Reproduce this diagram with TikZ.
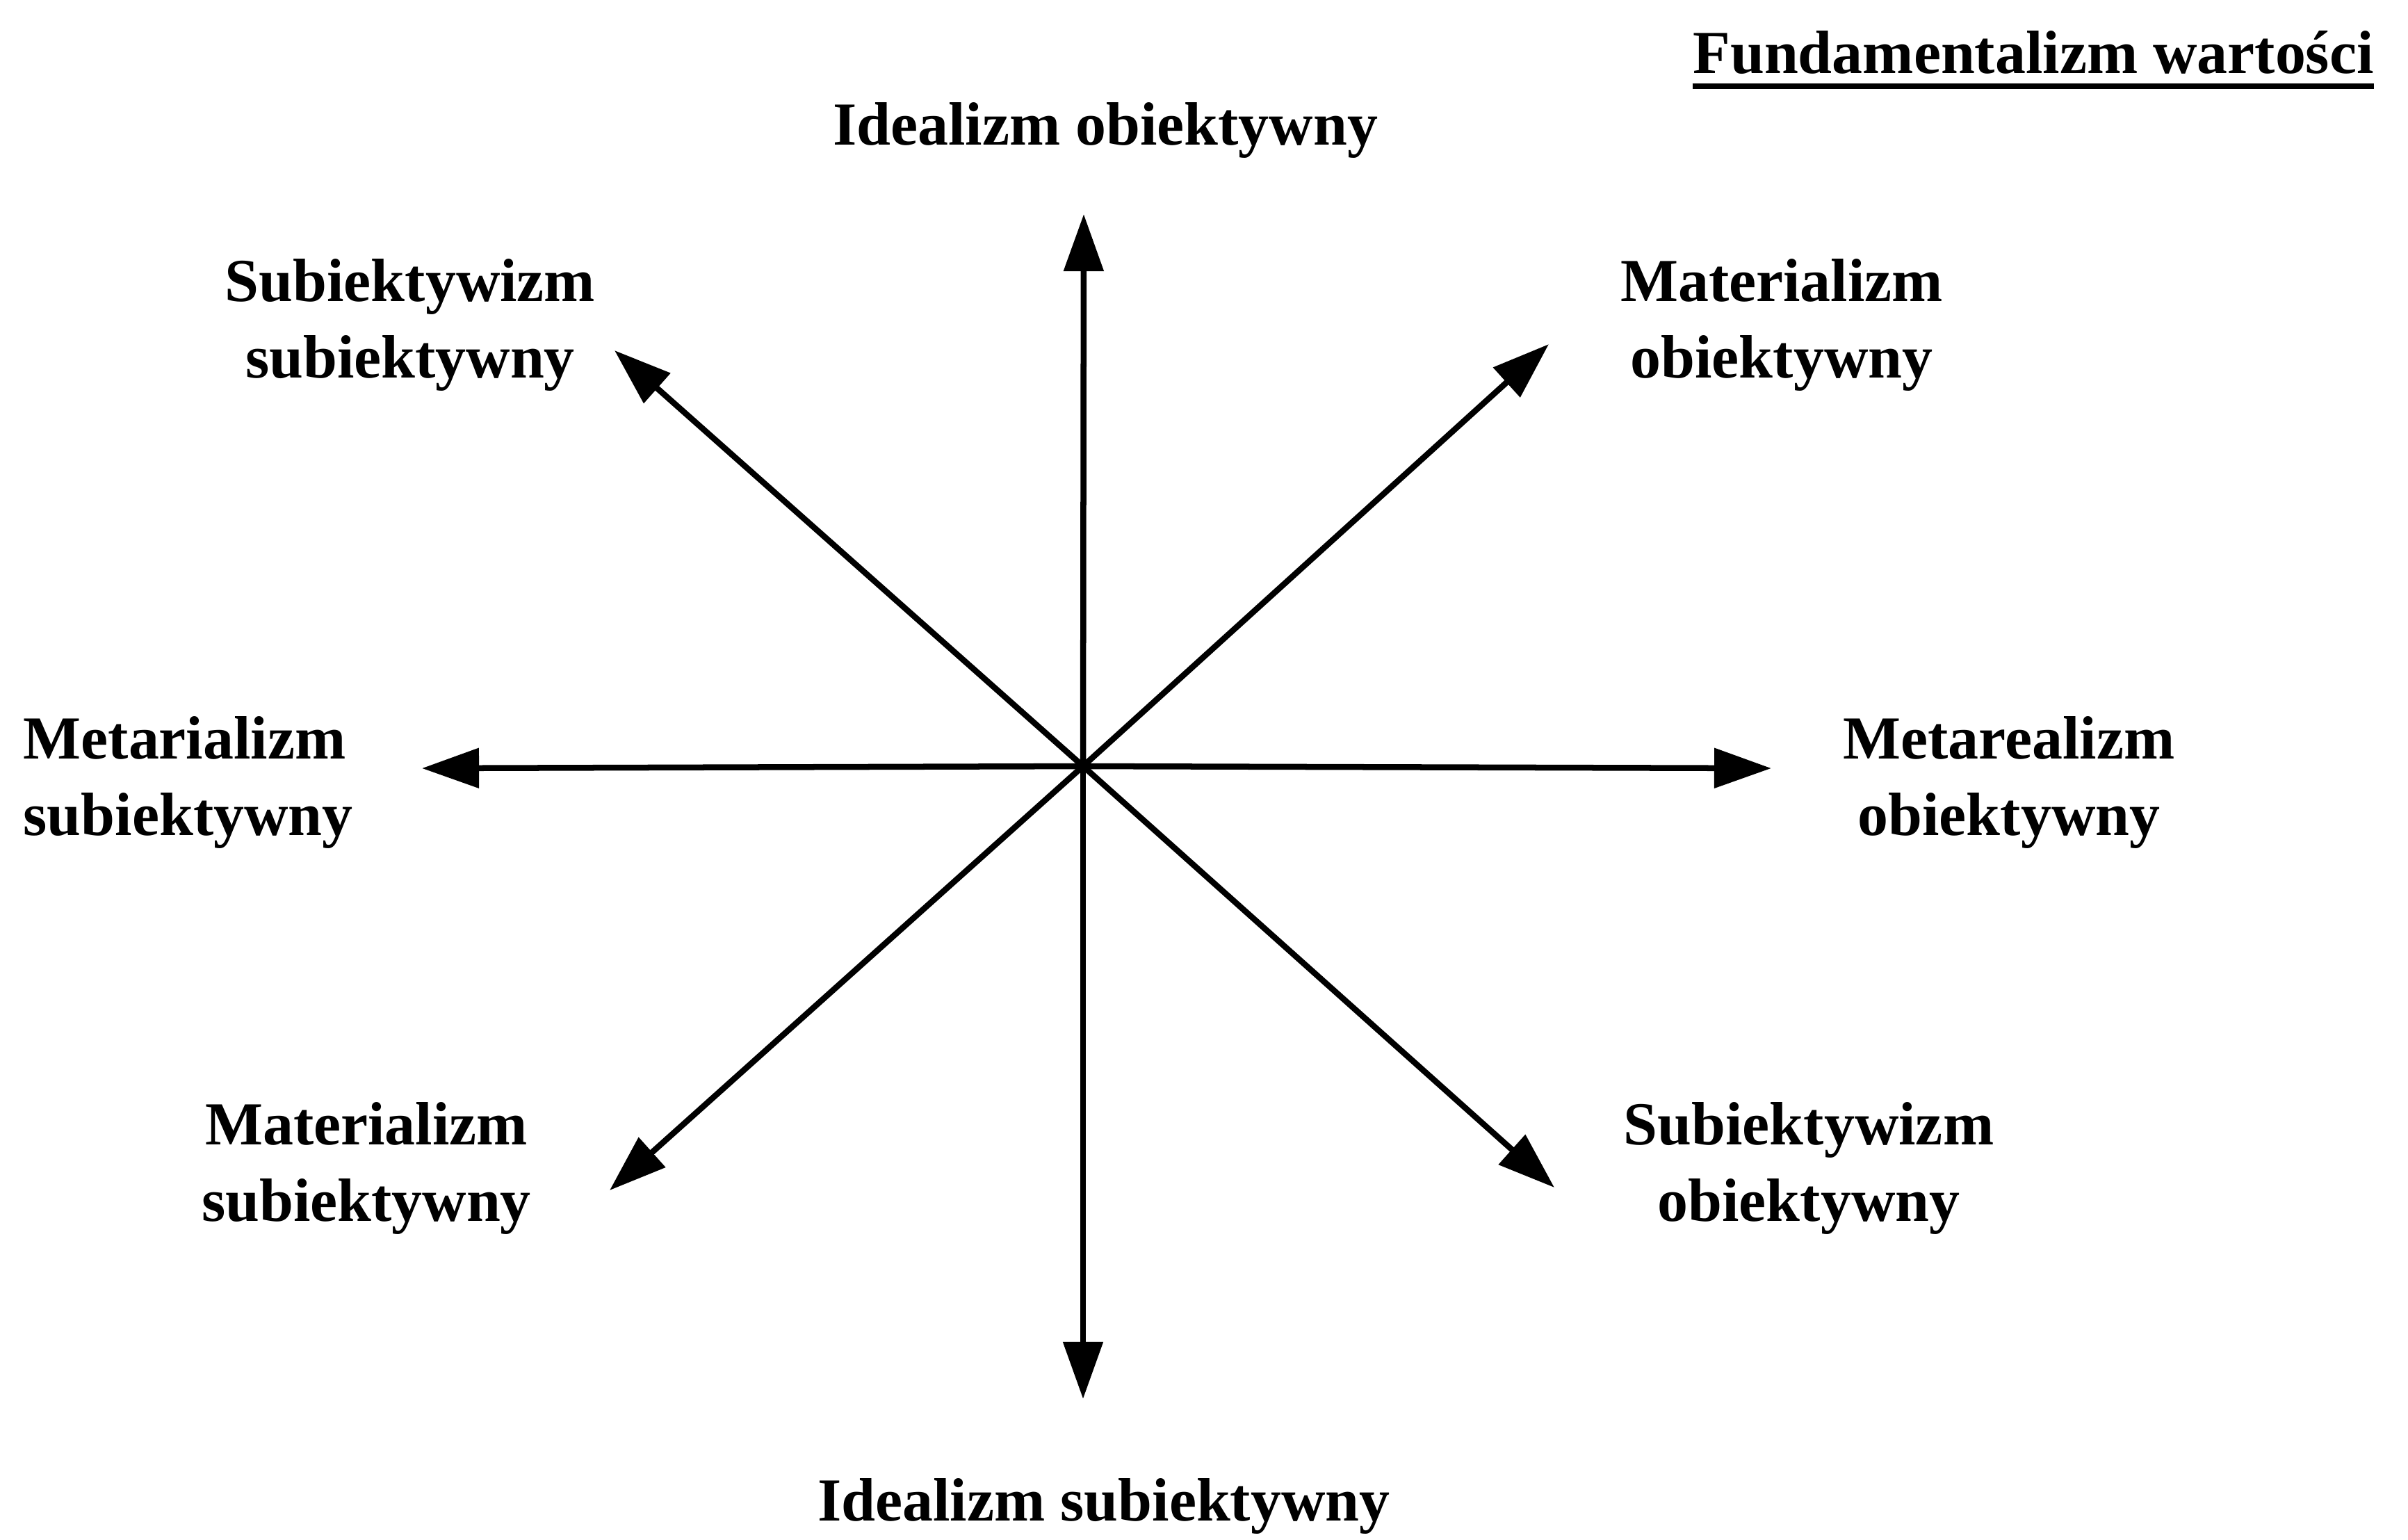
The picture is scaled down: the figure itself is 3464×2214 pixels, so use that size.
\documentclass[tikz,border=0pt]{standalone}
\usepackage{fontspec}
\setmainfont{Liberation Serif}
\usetikzlibrary{arrows.meta}
\begin{document}
\begin{tikzpicture}[x=0.01cm,y=-0.01cm,
  axis/.style={line width=0.085cm, -{Triangle[length=0.82cm,width=0.56cm]}},
  lbl/.style={font=\fontsize{25}{31.2}\selectfont\bfseries, align=center, anchor=base, inner sep=0pt}]
\useasboundingbox[fill=white] (0,0) rectangle (3464,2214);
\coordinate (O) at (1558,1102);
\coordinate (tN) at (1559,308);
\coordinate (tS) at (1558,2012);
\coordinate (tE) at (2548,1105);
\coordinate (tW) at (607,1105);
\coordinate (tNE) at (2228,495);
\coordinate (tNW) at (884,504);
\coordinate (tSW) at (877,1712);
\coordinate (tSE) at (2236,1708);
\foreach \t in {tN,tS,tE,tW,tNE,tNW,tSW,tSE}
  \draw[axis] (O) -- (\t);
\node[lbl] (title) at (2925,105) {Fundamentalizm wartości};
\draw[line width=2.2pt] ([yshift=-5.5pt]title.base west) -- ([yshift=-5.5pt]title.base east);
\node[lbl] (io) at (1590,208) {Idealizm obiektywny};
\node[lbl] (is) at (1588,2187) {Idealizm subiektywny};
\node[lbl] (ss) at (590,543) {Subiektywizm\\subiektywny};
\node[lbl] (mo) at (2563,543) {Materializm\\obiektywny};
\node[lbl, align=left, anchor=base west] (ms) at (33,1201) {Metarializm\\subiektywny};
\node[lbl] (mro) at (2890,1201) {Metarealizm\\obiektywny};
\node[lbl] (mts) at (527,1756) {Materializm\\subiektywny};
\node[lbl] (so) at (2602,1756) {Subiektywizm\\obiektywny};
\end{tikzpicture}
\end{document}
